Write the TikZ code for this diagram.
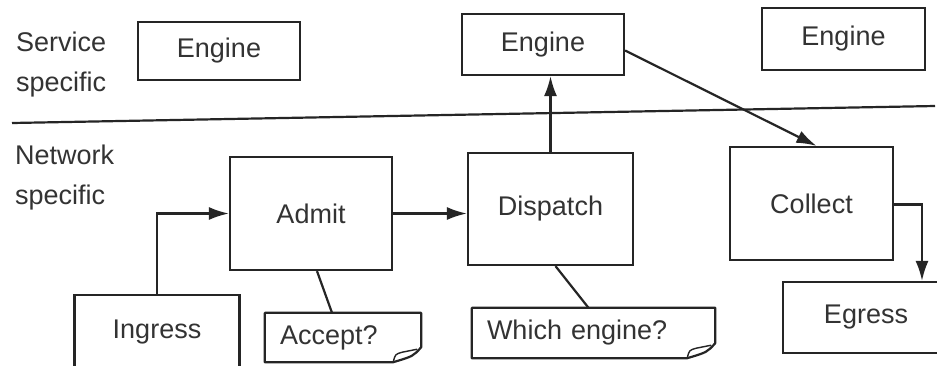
\documentclass[tikz,border=0pt]{standalone}
\usepackage{fontspec}
\setmainfont{Liberation Sans}
\usetikzlibrary{arrows.meta,calc}
\definecolor{ink}{HTML}{252525}
\definecolor{txt}{HTML}{333333}
\tikzset{
  box/.style={draw=ink, line width=2.2pt, rectangle, inner sep=0pt, text=txt, font=\fontsize{27}{40}\selectfont},
  note/.style={rectangle, inner xsep=15pt, inner ysep=0pt, text=txt, align=left, font=\fontsize{27}{40}\selectfont},
  lbl/.style={text=txt, align=left, inner sep=0pt, anchor=west, font=\fontsize{27}{40}\selectfont},
  conn/.style={draw=ink, line width=2.2pt},
  arr/.style={conn, -{Latex[length=20pt,width=13pt]}},
}
\newcommand{\notepath}[1]{%
  \draw[conn, line join=round] (#1.north west) -- (#1.north east) -- ([yshift=15pt]#1.south east)
    .. controls ([xshift=-8pt,yshift=6pt]#1.south east) .. ([xshift=-28pt]#1.south east)
    -- (#1.south west) -- cycle;
  \draw[draw=ink, line width=1.4pt, line join=round] ([xshift=-28pt]#1.south east)
    .. controls ([xshift=-26pt,yshift=8pt]#1.south east) .. ([xshift=-19pt,yshift=10pt]#1.south east)
    -- ([xshift=-4pt,yshift=13pt]#1.south east);
}
\begin{document}
\begin{tikzpicture}[x=1pt,y=-1pt]
\useasboundingbox[fill=white] (0,0) rectangle (937,365);

% labels
\node[lbl] (svc) at (16,65) {Service\\specific};
\node[lbl] (net) at (15,178) {Network\\specific};

% separator
\coordinate (sepL) at (12,123);
\coordinate (sepR) at (935,106);
\draw[conn] (sepL) -- (sepR);

% engines
\node[box, minimum width=162pt, minimum height=58pt] (eng1) at (219,51) {Engine};
\node[box, minimum width=162pt, minimum height=61pt] (eng2) at (543,44.5) {Engine};
\node[box, minimum width=163pt, minimum height=62pt] (eng3) at (843.5,39) {Engine};

% network boxes
\node[box, minimum width=162pt, minimum height=113pt] (admit) at (311,213.5) {Admit};
\node[box, minimum width=165pt, minimum height=112pt] (dispatch) at (550.5,209) {Dispatch};
\node[box, minimum width=163pt, minimum height=113pt] (collect) at (811.5,203.5) {Collect};
\node[box, minimum width=165pt, minimum height=74pt] (ingress) at (157,332) {Ingress};
\node[box, minimum width=166pt, minimum height=71pt] (egress) at (866,317.5) {Egress};

% notes
\node[note, text width=126pt, minimum height=49pt] (accept) at (343,337.5) {Accept?};
\node[note, text width=213pt, minimum height=50pt] (which) at (593.5,333) {Which engine?};
\notepath{accept}
\notepath{which}

% connectors
\draw[arr] (ingress.north) |- (admit.west);
\draw[arr] (admit.east) -- (dispatch.west |- admit.east);
\draw[arr] (dispatch.north) -- (dispatch.north |- eng2.south);
\draw[arr] ([yshift=-6pt]eng2.east) -- ([xshift=5pt]collect.north);
\coordinate (egIn) at ([xshift=56pt]egress.north);
\draw[arr] ([yshift=-1pt]collect.east) -| (egIn);
\draw[conn] ([xshift=6pt]admit.south) -- ([xshift=-11pt]accept.north);
\draw[conn] ([xshift=5pt]dispatch.south) -- ([xshift=-5pt]which.north);
\end{tikzpicture}
\end{document}
